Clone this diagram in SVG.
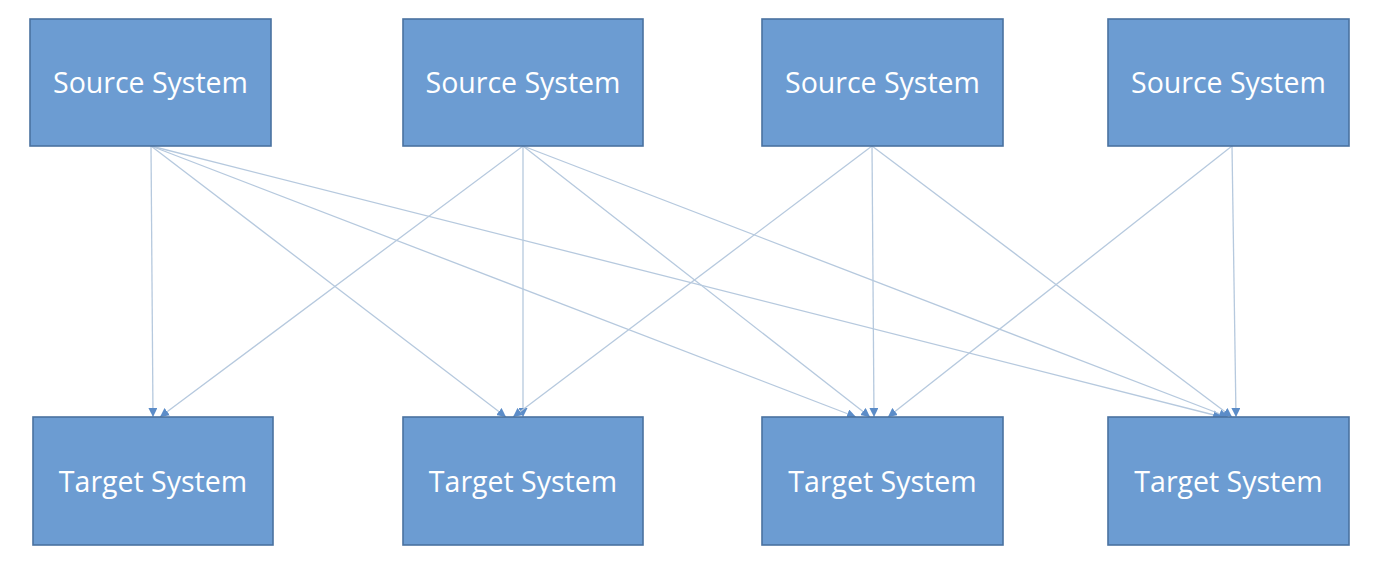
<svg xmlns="http://www.w3.org/2000/svg" width="1376" height="568" viewBox="0 0 1376 568">
<style>
.box{fill:#6c9cd2;stroke:#4a72a0;stroke-width:1.6}
.lbl{fill:#ffffff;font-family:"Open Sans","Noto Sans",sans-serif;font-size:28.5px;text-anchor:middle}
.conn line{stroke:#b6c9de;stroke-width:1.3;marker-end:url(#ah)}
</style>
<defs>
<marker id="ah" viewBox="0 0 10 10" refX="10" refY="5" markerWidth="9" markerHeight="9" markerUnits="userSpaceOnUse" orient="auto">
<path d="M0,0 L10,5 L0,10 z" fill="#5b8cc8"/>
</marker>
</defs>
<rect width="1376" height="568" fill="#ffffff"/>
<g class="conn">
<line x1="151" y1="146" x2="153" y2="417"/>
<line x1="151" y1="146" x2="506" y2="417"/>
<line x1="151" y1="146" x2="856" y2="417"/>
<line x1="151" y1="146" x2="1222" y2="417"/>
<line x1="523" y1="146" x2="160" y2="417"/>
<line x1="523" y1="146" x2="523" y2="417"/>
<line x1="523" y1="146" x2="870" y2="417"/>
<line x1="523" y1="146" x2="1228" y2="417"/>
<line x1="872" y1="146" x2="513" y2="417"/>
<line x1="872" y1="146" x2="874" y2="417"/>
<line x1="872" y1="146" x2="1232" y2="417"/>
<line x1="1232" y1="146" x2="888" y2="417"/>
<line x1="1232" y1="146" x2="1236" y2="417"/>
</g>
<g id="source1"><rect class="box" x="30" y="19" width="241" height="127"/><text class="lbl" x="150.5" y="93">Source System</text></g>
<g id="source2"><rect class="box" x="403" y="19" width="240" height="127"/><text class="lbl" x="523" y="93">Source System</text></g>
<g id="source3"><rect class="box" x="762" y="19" width="241" height="127"/><text class="lbl" x="882.5" y="93">Source System</text></g>
<g id="source4"><rect class="box" x="1108" y="19" width="241" height="127"/><text class="lbl" x="1228.5" y="93">Source System</text></g>
<g id="target1"><rect class="box" x="33" y="417" width="240" height="128"/><text class="lbl" x="153" y="492">Target System</text></g>
<g id="target2"><rect class="box" x="403" y="417" width="240" height="128"/><text class="lbl" x="523" y="492">Target System</text></g>
<g id="target3"><rect class="box" x="762" y="417" width="241" height="128"/><text class="lbl" x="882.5" y="492">Target System</text></g>
<g id="target4"><rect class="box" x="1108" y="417" width="241" height="128"/><text class="lbl" x="1228.5" y="492">Target System</text></g>
</svg>
